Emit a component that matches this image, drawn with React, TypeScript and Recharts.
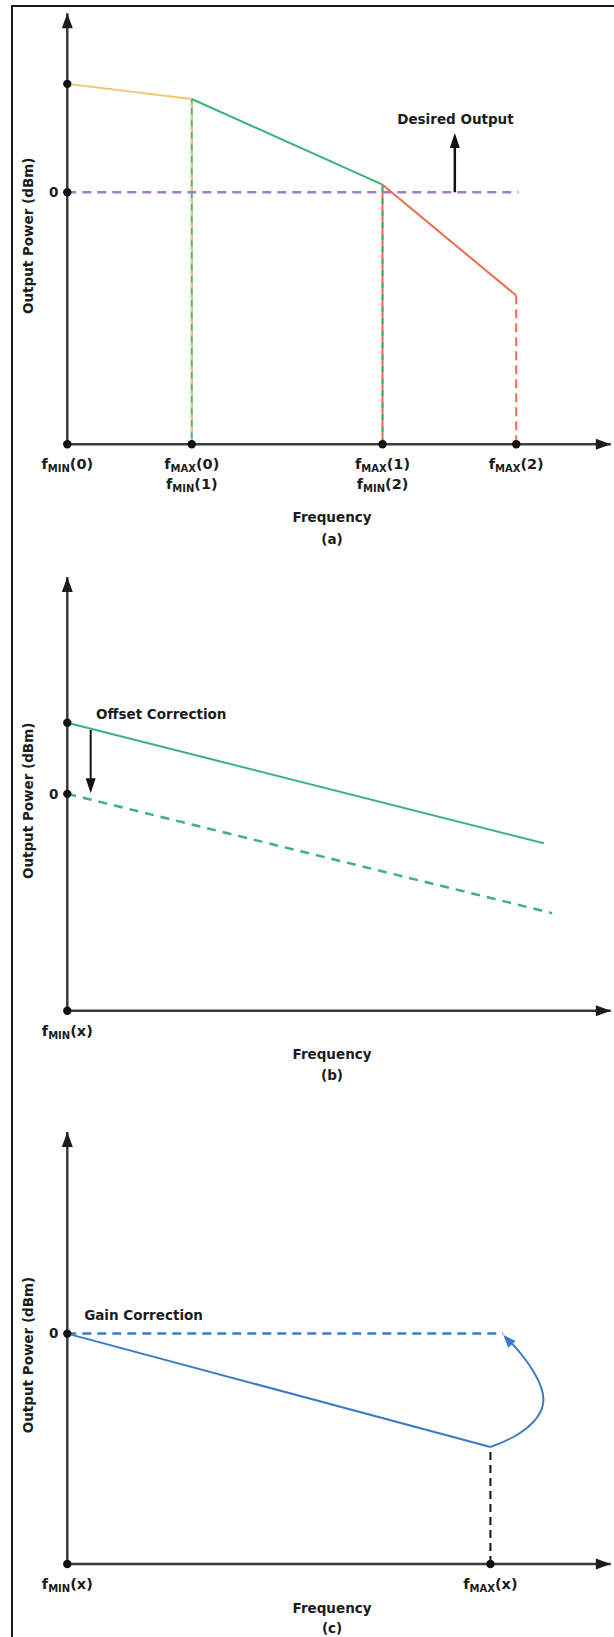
import { LineChart, Line, XAxis, YAxis, ReferenceLine, ReferenceDot } from "recharts";

// band edges, arbitrary frequency units (0 = fMIN(0), 100 = end of axis)
const aEdgeFreq = [0, 22.9, 58, 82.6];
// output power at the band edges (dBm)
const aEdgePower = [8.6, 7.4, 0.6, -8.2];
const aTargetEnd = 83;
const aTickLines = [
  [["MIN", "(0)"]],
  [["MAX", "(0)"], ["MIN", "(1)"]],
  [["MAX", "(1)"], ["MIN", "(2)"]],
  [["MAX", "(2)"]],
];

// offset correction
const bFreq = [0, 87.7];
const bMeasured = [5.9, -4.1];
const bCorrectedFreq = [0, 89.2];
const bCorrected = [0, -9.9];
const bTickLines = [[["MIN", "(x)"]]];

// gain correction
const cFreq = [0, 77.85];
const cMeasured = [0, -9.45];
const cTargetFreq = [0, 80.2];
const cTarget = [0, 0];
const cCurveFreq = [77.85, 83.3, 87.6, 83.9, 80.6];
const cCurvePower = [-9.45, -8.28, -5.53, -1.93, -0.3];
const cTickLines = [[["MIN", "(x)"]], [["MAX", "(x)"]]];

const YELLOW = "#F6C46E";
const GREEN = "#3CB37A";
const RED = "#EE6B4D";
const PURPLE = "#A47DC9";
const BLUE = "#3C7AC4";
const INK = "#1c1c1c";
const AXIS = "#3b3b3b";
const FONT = '"DejaVu Sans", sans-serif';

const pts = (xs: number[], ys: number[]) => xs.map((x, i) => ({ x, y: ys[i] }));

const head =
  (angle: number, len: number, wid: number, color: string) =>
  (props: any) =>
    (
      <polygon
        points={`0,0 ${-len},${-wid / 2} ${-len},${wid / 2}`}
        transform={`translate(${props.cx},${props.cy}) rotate(${angle})`}
        fill={color}
      />
    );

const note = (text: string) => (props: any) =>
  (
    <text x={props.cx} y={props.cy} fontFamily={FONT} fontWeight={700} fontSize={13.5} fill={INK}>
      {text}
    </text>
  );

function FreqTick(props: any) {
  const { x, y, lines } = props;
  if (!lines) return null;
  return (
    <g>
      {lines.map(([sub, arg]: string[], i: number) => (
        <text
          key={i}
          x={x}
          y={y + 25 + i * 20}
          textAnchor="middle"
          fontFamily={FONT}
          fontWeight={700}
          fontSize={14.5}
          fill={INK}
        >
          <tspan>f</tspan>
          <tspan fontSize={10} dy={3}>
            {sub}
          </tspan>
          <tspan dy={-3}>{arg}</tspan>
        </text>
      ))}
    </g>
  );
}

const freqTitle = (tag: string, d1: number, d2: number) => (props: any) => {
  const vb = props.viewBox;
  const cx = vb.x + vb.width / 2 - 7;
  return (
    <g fontFamily={FONT} fontWeight={700} fontSize={13.5} fill={INK}>
      <text x={cx} y={vb.y + d1} textAnchor="middle">
        Frequency
      </text>
      <text x={cx} y={vb.y + d2} textAnchor="middle">
        {tag}
      </text>
    </g>
  );
};

const powerTitle = (props: any) => {
  const vb = props.viewBox;
  const cy = vb.y + vb.height / 2 + 7;
  return (
    <text
      x={28}
      y={cy}
      transform={`rotate(-90 28 ${cy})`}
      textAnchor="middle"
      dominantBaseline="central"
      fontFamily={FONT}
      fontWeight={700}
      fontSize={13.5}
      fill={INK}
    >
      Output Power (dBm)
    </text>
  );
};

const yTick = { fontFamily: FONT, fontWeight: 700, fontSize: 13.5, fill: INK };

function axes(
  yDomain: number[],
  ticks: number[],
  tickLines: string[][][],
  xHeight: number,
  tag: string,
  d1: number,
  d2: number
) {
  return [
    <XAxis
      key="x"
      type="number"
      dataKey="x"
      domain={[0, 100]}
      ticks={ticks}
      height={xHeight}
      tickLine={false}
      tickSize={0}
      tickMargin={0}
      axisLine={{ stroke: AXIS, strokeWidth: 2.5 }}
      tick={(p: any) => <FreqTick {...p} lines={tickLines[ticks.indexOf(p.payload.value)]} />}
      label={freqTitle(tag, d1, d2)}
    />,
    <YAxis
      key="y"
      type="number"
      dataKey="y"
      domain={yDomain}
      ticks={[0]}
      width={67.3}
      tickLine={false}
      tickSize={0}
      tickMargin={9}
      tick={yTick}
      axisLine={{ stroke: AXIS, strokeWidth: 2.5 }}
      label={powerTitle}
    />,
  ];
}

const dot = (x: number, y: number, k: string) => (
  <ReferenceDot key={k} x={x} y={y} r={4.2} fill="#111" stroke="none" />
);

function PanelA() {
  const lo = -20;
  const hi = 14.2;
  return (
    <LineChart width={614} height={560} margin={{ top: 13.3, right: 3.2, left: 0, bottom: 0 }}>
      {axes([lo, hi], aEdgeFreq, aTickLines, 115.7, "(a)", 78, 100)}
      <Line data={pts([aEdgeFreq[1], aEdgeFreq[1]], [lo, aEdgePower[1]])} dataKey="y" stroke={GREEN} strokeWidth={2} dot={false} isAnimationActive={false} />
      <Line data={pts([aEdgeFreq[1], aEdgeFreq[1]], [lo, aEdgePower[1]])} dataKey="y" stroke={YELLOW} strokeWidth={2} strokeDasharray="6 6" dot={false} isAnimationActive={false} />
      <Line data={pts([aEdgeFreq[2], aEdgeFreq[2]], [lo, aEdgePower[2]])} dataKey="y" stroke={RED} strokeWidth={2} dot={false} isAnimationActive={false} />
      <Line data={pts([aEdgeFreq[2], aEdgeFreq[2]], [lo, aEdgePower[2]])} dataKey="y" stroke={GREEN} strokeWidth={2} strokeDasharray="6 6" dot={false} isAnimationActive={false} />
      <Line data={pts([aEdgeFreq[3], aEdgeFreq[3]], [lo, aEdgePower[3]])} dataKey="y" stroke={RED} strokeWidth={2} strokeDasharray="9 5" dot={false} isAnimationActive={false} />
      <Line data={pts([0, aTargetEnd], [0, 0])} dataKey="y" stroke={PURPLE} strokeWidth={2.5} strokeDasharray="9 6" dot={false} isAnimationActive={false} />
      <Line data={pts(aEdgeFreq.slice(0, 2), aEdgePower.slice(0, 2))} dataKey="y" stroke={YELLOW} strokeWidth={2} dot={false} isAnimationActive={false} />
      <Line data={pts(aEdgeFreq.slice(1, 3), aEdgePower.slice(1, 3))} dataKey="y" stroke={GREEN} strokeWidth={2} dot={false} isAnimationActive={false} />
      <Line data={pts(aEdgeFreq.slice(2, 4), aEdgePower.slice(2, 4))} dataKey="y" stroke={RED} strokeWidth={2} dot={false} isAnimationActive={false} />
      <ReferenceLine segment={[{ x: 71.3, y: 0 }, { x: 71.3, y: 3.6 }]} stroke="#111" strokeWidth={2.5} />
      <ReferenceDot x={71.3} y={4.7} shape={head(-90, 15, 10, "#111")} />
      <ReferenceDot x={60.7} y={5.4} shape={note("Desired Output")} />
      <ReferenceDot x={0} y={hi} shape={head(-90, 15, 11, INK)} />
      <ReferenceDot x={100} y={lo} shape={head(0, 15, 11, INK)} />
      {dot(0, aEdgePower[0], "d0")}
      {dot(0, 0, "d1")}
      {aEdgeFreq.map((f, i) => dot(f, lo, "e" + i))}
    </LineChart>
  );
}

function PanelB() {
  const lo = -18;
  const hi = 18;
  return (
    <LineChart width={614} height={540} margin={{ top: 17, right: 3.2, left: 0, bottom: 0 }}>
      {axes([lo, hi], [0], bTickLines, 89.3, "(b)", 48.5, 69)}
      <Line data={pts(bCorrectedFreq, bCorrected)} dataKey="y" stroke={GREEN} strokeWidth={2.5} strokeDasharray="9 7" dot={false} isAnimationActive={false} />
      <Line data={pts(bFreq, bMeasured)} dataKey="y" stroke={GREEN} strokeWidth={2} dot={false} isAnimationActive={false} />
      <ReferenceLine segment={[{ x: 4.3, y: 5.3 }, { x: 4.3, y: 1.1 }]} stroke="#111" strokeWidth={2} />
      <ReferenceDot x={4.3} y={0.05} shape={head(90, 15, 10, "#111")} />
      <ReferenceDot x={5.3} y={6.2} shape={note("Offset Correction")} />
      <ReferenceDot x={0} y={hi} shape={head(-90, 15, 11, INK)} />
      <ReferenceDot x={100} y={lo} shape={head(0, 15, 11, INK)} />
      {dot(0, bMeasured[0], "d0")}
      {dot(0, 0, "d1")}
      {dot(0, lo, "d2")}
    </LineChart>
  );
}

function PanelC() {
  const lo = -19.2;
  const hi = 16.8;
  return (
    <LineChart width={614} height={537} margin={{ top: 32, right: 3.2, left: 0, bottom: 0 }}>
      {axes([lo, hi], cFreq, cTickLines, 73, "(c)", 49, 69)}
      <Line data={pts([cFreq[1], cFreq[1]], [lo, cMeasured[1]])} dataKey="y" stroke="#111" strokeWidth={2} strokeDasharray="8 5" dot={false} isAnimationActive={false} />
      <Line data={pts(cTargetFreq, cTarget)} dataKey="y" stroke={BLUE} strokeWidth={2.5} strokeDasharray="9 6" dot={false} isAnimationActive={false} />
      <Line data={pts(cFreq, cMeasured)} dataKey="y" stroke={BLUE} strokeWidth={2} dot={false} isAnimationActive={false} />
      <Line data={pts(cCurveFreq, cCurvePower)} type="natural" dataKey="y" stroke={BLUE} strokeWidth={2} dot={false} isAnimationActive={false} />
      <ReferenceDot x={80.2} y={-0.1} shape={head(-132, 13, 10, BLUE)} />
      <ReferenceDot x={3.1} y={1.1} shape={note("Gain Correction")} />
      <ReferenceDot x={0} y={hi} shape={head(-90, 15, 11, INK)} />
      <ReferenceDot x={100} y={lo} shape={head(0, 15, 11, INK)} />
      {dot(0, 0, "d1")}
      {dot(0, lo, "d2")}
      {dot(cFreq[1], lo, "d3")}
    </LineChart>
  );
}

export default function App() {
  return (
    <div style={{ position: "relative", width: 614, height: 1637, background: "#fff", overflow: "hidden" }}>
      <style>{"html,body{margin:0;padding:0;overflow:hidden;background:#fff}"}</style>
      <div
        style={{
          position: "absolute",
          left: 10.5,
          top: 4.5,
          right: 0,
          bottom: 0,
          borderTop: "2px solid #1a1a1a",
          borderLeft: "2px solid #1a1a1a",
        }}
      />
      <div style={{ position: "absolute", left: 0, top: 0 }}>
        <PanelA />
      </div>
      <div style={{ position: "absolute", left: 0, top: 560 }}>
        <PanelB />
      </div>
      <div style={{ position: "absolute", left: 0, top: 1100 }}>
        <PanelC />
      </div>
    </div>
  );
}
